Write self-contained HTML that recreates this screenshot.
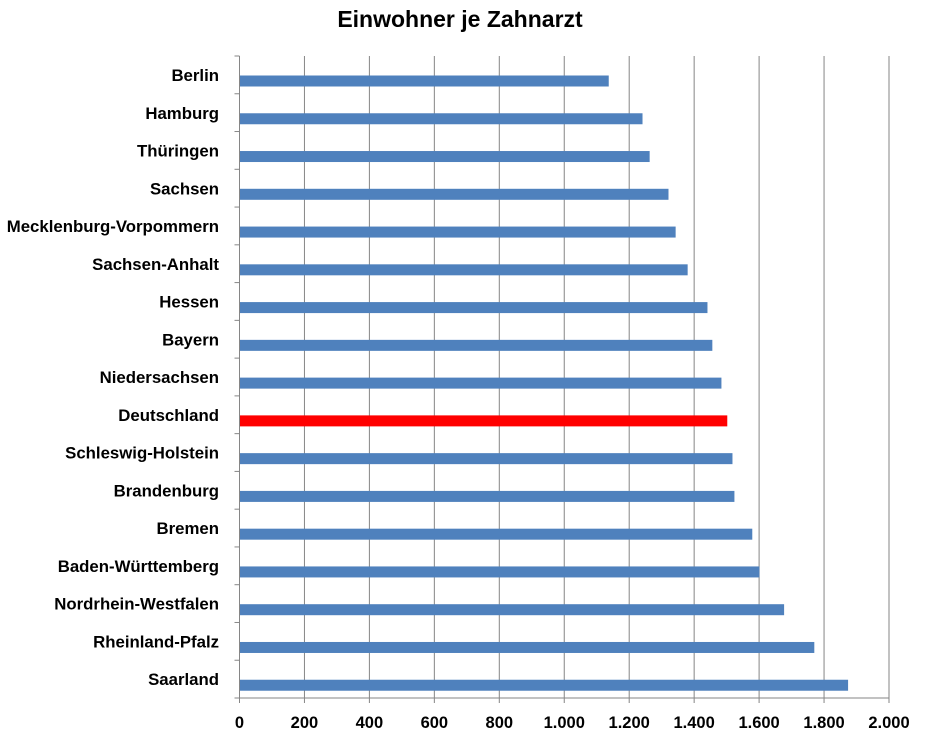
<!DOCTYPE html>
<html><head><meta charset="utf-8"><style>body{margin:0;background:#fff}</style></head><body>
<svg width="935" height="744" xmlns="http://www.w3.org/2000/svg" font-family="Liberation Sans, sans-serif" font-weight="bold">
<text x="460" y="27" font-size="23" text-anchor="middle" fill="#000">Einwohner je Zahnarzt</text>
<g id="g"></g>
<script>
(function(){
var ns="http://www.w3.org/2000/svg",g=document.getElementById('g');
function el(t,a,txt){var e=document.createElementNS(ns,t);for(var k in a)e.setAttribute(k,a[k]);if(txt)e.textContent=txt;g.appendChild(e);return e;}
var x0=239.5,sc=(889-239.5)/2000,T=56,B=698,ch=(B-T)/17;
var labs=["0","200","400","600","800","1.000","1.200","1.400","1.600","1.800","2.000"];
for(var i=0;i<=10;i++){var x=x0+i*200*sc;if(i>0)el('line',{x1:x,y1:T,x2:x,y2:B+5,stroke:'#868686','stroke-width':1});
el('text',{x:x,y:728,'font-size':16.5,'text-anchor':'middle'},labs[i]);}
var d=[["Berlin",1137],["Hamburg",1241],["Thüringen",1263],["Sachsen",1321],["Mecklenburg-Vorpommern",1343],["Sachsen-Anhalt",1380],["Hessen",1441],["Bayern",1456],["Niedersachsen",1484],["Deutschland",1502],["Schleswig-Holstein",1518],["Brandenburg",1524],["Bremen",1579],["Baden-Württemberg",1601],["Nordrhein-Westfalen",1677],["Rheinland-Pfalz",1770],["Saarland",1874]];
for(var j=0;j<17;j++){var y=T+j*ch;
el('rect',{x:x0,y:y+19.5,width:d[j][1]*sc,height:11,fill:j==9?'#ff0000':'#4f81bd'});
el('text',{x:219,y:y+25,'font-size':16.8,'text-anchor':'end'},d[j][0]);}
for(var j=0;j<=17;j++){var y=T+j*ch;el('line',{x1:x0-5,y1:y,x2:x0,y2:y,stroke:'#868686'});}
el('line',{x1:x0,y1:T,x2:x0,y2:B+5,stroke:'#868686'});
el('line',{x1:x0,y1:B,x2:889,y2:B,stroke:'#868686'});
})();
</script>
</svg>
</body></html>
